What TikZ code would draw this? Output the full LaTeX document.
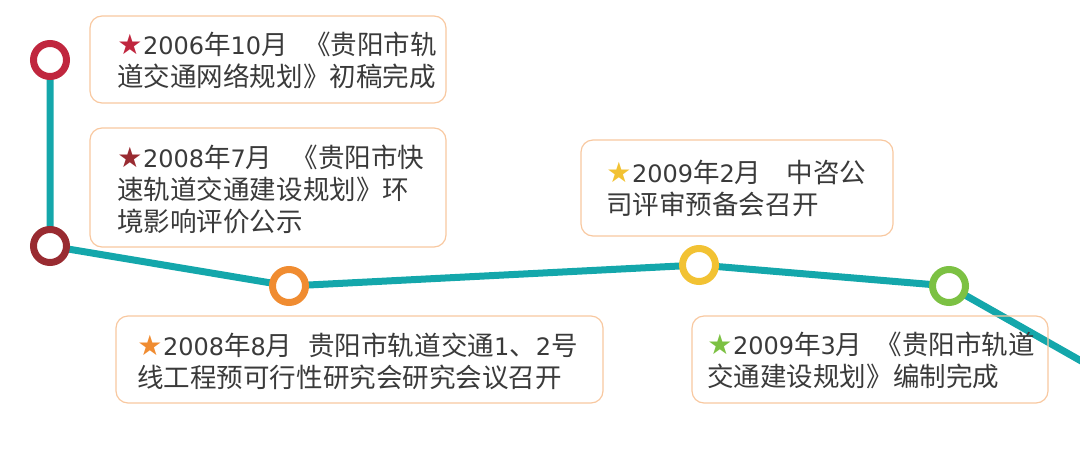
\documentclass[tikz,border=0pt]{standalone}
\usepackage{fontspec}
\setmainfont{Noto Sans CJK SC}
\newfontfamily\latinfont{DejaVu Sans}
\definecolor{lineteal}{RGB}{20,167,171}
\definecolor{boxline}{RGB}{248,200,160}
\definecolor{txtgray}{RGB}{58,58,58}
\definecolor{stopcrimson}{RGB}{192,38,62}
\definecolor{stopmaroon}{RGB}{153,43,49}
\definecolor{stoporange}{RGB}{240,140,49}
\definecolor{stopyellow}{RGB}{242,194,51}
\definecolor{stopgreen}{RGB}{124,193,67}
\newcommand{\evstar}[1]{{\color{#1}\latinfont\fontsize{21pt}{21pt}\selectfont ★}\kern0.5pt}
\newcommand{\dg}[1]{{\latinfont\fontsize{18pt}{24pt}\selectfont #1}}
\pgfdeclarelayer{background}
\pgfsetlayers{background,main}

\begin{document}
\begin{tikzpicture}[x=0.75pt,y=0.75pt,yscale=-1,xscale=1,
    stop/.style={circle, draw=#1, fill=white, line width=5.25pt, minimum size=24.75pt, inner sep=0pt},
    evbox/.style={draw=boxline, line width=0.9pt, rounded corners=9pt},
    evtext/.style={anchor=base west, inner sep=0pt, align=left, text=txtgray, font=\fontsize{19.9pt}{24pt}\selectfont}]
    \useasboundingbox (0,0) rectangle (1080,468);
    %Text boxes
    \draw [evbox] (90,16) rectangle (446,103);
    \draw [evbox] (90,128) rectangle (446,247);
    \draw [evbox] (116,316) rectangle (603,403);
    \draw [evbox] (581,140) rectangle (893,236);
    \draw [evbox] (692,316) rectangle (1048,403);
    % Text Node (anchored at the baseline of its last line)
    \node [evtext] (t1) at (117,86) {\evstar{stopcrimson}\dg{2006}年\dg{10}月\hspace{0.62em}《贵阳市轨\\道交通网络规划》初稿完成};
    % Text Node
    \node [evtext] (t2) at (117,231) {\evstar{stopmaroon}\dg{2008}年\dg{7}月\hspace{0.73em}《贵阳市快\\速轨道交通建设规划》环\\境影响评价公示};
    % Text Node
    \node [evtext] (t3) at (137,387) {\evstar{stoporange}\dg{2008}年\dg{8}月\hspace{0.6em}贵阳市轨道交通\dg{1}、\dg{2}号\\线工程预可行性研究会研究会议召开};
    % Text Node
    \node [evtext] (t4) at (606,214) {\evstar{stopyellow}\dg{2009}年\dg{2}月\hspace{0.95em}中咨公\\司评审预备会召开};
    % Text Node
    \node [evtext] (t5) at (707,386) {\evstar{stopgreen}\dg{2009}年\dg{3}月\hspace{0.5em}《贵阳市轨道\\交通建设规划》编制完成};
    %Stops
    \node [stop=stopcrimson] (s1) at (50,60) {};
    \node [stop=stopmaroon] (s2) at (50,246) {};
    \node [stop=stoporange] (s3) at (289,286) {};
    \node [stop=stopyellow] (s4) at (699,265) {};
    \node [stop=stopgreen] (s5) at (949,286) {};
    \coordinate (e1) at (1090,366);
    %Track line
    \begin{pgfonlayer}{background}
    \draw [lineteal, line width=5.25pt] (s1.center) -- (s2.center) -- (s3.center) -- (s4.center) -- (s5.center) -- (e1);
    \end{pgfonlayer}
\end{tikzpicture}
\end{document}
